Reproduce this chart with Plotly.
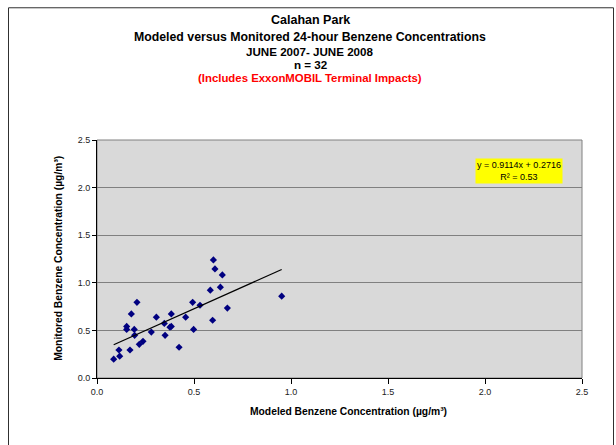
import plotly.graph_objects as go

modeled = [0.086, 0.113, 0.117, 0.170, 0.153, 0.153, 0.177, 0.206, 0.192, 0.194,
           0.218, 0.237, 0.280, 0.306, 0.347, 0.351, 0.376, 0.383, 0.383, 0.423,
           0.457, 0.493, 0.498, 0.531, 0.584, 0.596, 0.600, 0.608, 0.646, 0.636,
           0.672, 0.952]
monitored = [0.198, 0.294, 0.229, 0.294, 0.542, 0.510, 0.673, 0.795, 0.510, 0.448,
             0.354, 0.385, 0.482, 0.639, 0.573, 0.448, 0.534, 0.542, 0.673, 0.323,
             0.639, 0.795, 0.510, 0.764, 0.923, 0.607, 1.240, 1.146, 1.083, 0.954,
             0.734, 0.860]
slope = 0.9114
intercept = 0.2716
r2 = 0.53
tick_vals = [0.0, 0.5, 1.0, 1.5, 2.0, 2.5]

font = "Liberation Sans, Arial, sans-serif"

xmin, xmax = min(modeled), max(modeled)
trend_x = [xmin, xmax]
trend_y = [slope * v + intercept for v in trend_x]

fig = go.Figure()
fig.add_trace(go.Scatter(x=modeled, y=monitored, mode="markers",
                         marker=dict(symbol="diamond", size=5.5, color="#000080"),
                         showlegend=False, hoverinfo="x+y"))
fig.add_trace(go.Scatter(x=trend_x, y=trend_y, mode="lines",
                         line=dict(color="black", width=1.2),
                         showlegend=False, hoverinfo="skip"))

W, H = 616, 445
L, R, T, B = 97, 616 - 582, 140, 445 - 378.5
pw, ph = W - L - R, H - T - B

def px_x(px):
    return (px - L) / pw

def px_y(py):
    return (H - B - py) / ph

titles = [
    ("<b>Calahan Park</b>", 20, 12.5, "black"),
    ("<b>Modeled versus Monitored 24-hour Benzene Concentrations</b>", 37, 12.3, "black"),
    ("<b>JUNE 2007- JUNE 2008</b>", 51, 11.6, "black"),
    ("<b>n = 32</b>", 64, 11.6, "black"),
    ("<b>(Includes ExxonMOBIL Terminal Impacts)</b>", 78, 11.4, "#FF0000"),
]
annotations = []
for text, py, size, col in titles:
    annotations.append(dict(text=text, x=px_x(310), y=px_y(py), xref="paper", yref="paper",
                            showarrow=False, xanchor="center", yanchor="middle",
                            font=dict(family=font, size=size, color=col)))

annotations.append(dict(text="<b>Modeled Benzene Concentration (µg/m³)</b>",
                        x=px_x(348), y=px_y(412), xref="paper", yref="paper",
                        showarrow=False, xanchor="center", yanchor="middle",
                        font=dict(family=font, size=10.3, color="black")))
annotations.append(dict(text="<b>Monitored Benzene Concentration (µg/m³)</b>",
                        x=px_x(59), y=px_y(259), xref="paper", yref="paper",
                        showarrow=False, xanchor="center", yanchor="middle", textangle=-90,
                        font=dict(family=font, size=10.3, color="black")))
annotations.append(dict(text=f"y = {slope}x + {intercept}<br>R² = {r2}",
                        x=px_x(519), y=px_y(171), xref="paper", yref="paper",
                        showarrow=False, xanchor="center", yanchor="middle",
                        bgcolor="#FFFF00", borderpad=1, align="center",
                        font=dict(family=font, size=9, color="black")))

shapes = [
    dict(type="rect", xref="paper", yref="paper", x0=px_x(8.5), x1=px_x(613.5),
         y0=px_y(470), y1=px_y(7.5), line=dict(color="#303030", width=1), layer="below"),
    dict(type="rect", xref="paper", yref="paper", x0=0, x1=1, y0=0, y1=1,
         line=dict(color="#808080", width=1), layer="below"),
]

fig.update_layout(
    width=W, height=H,
    margin=dict(l=L, r=R, t=T, b=B, pad=0),
    paper_bgcolor="white", plot_bgcolor="#D9D9D9",
    annotations=annotations, shapes=shapes,
    font=dict(family=font, size=9, color="#222"),
)
fig.update_xaxes(range=[0, 2.5], tickvals=tick_vals, tickformat=".1f",
                 showgrid=False, zeroline=False, showline=True, linecolor="black",
                 linewidth=1, ticks="outside", ticklen=5, tickcolor="black",
                 tickfont=dict(family=font, size=9, color="#222"))
fig.update_yaxes(range=[0, 2.5], tickvals=tick_vals, tickformat=".1f",
                 showgrid=True, gridcolor="#808080", gridwidth=1, zeroline=False,
                 showline=True, linecolor="black", linewidth=1,
                 ticks="outside", ticklen=4, tickcolor="black",
                 tickfont=dict(family=font, size=9, color="#222"))

fig.write_html("out.html", config={"displayModeBar": False},
               post_script="document.body.style.margin='0';document.body.style.overflow='hidden';")
